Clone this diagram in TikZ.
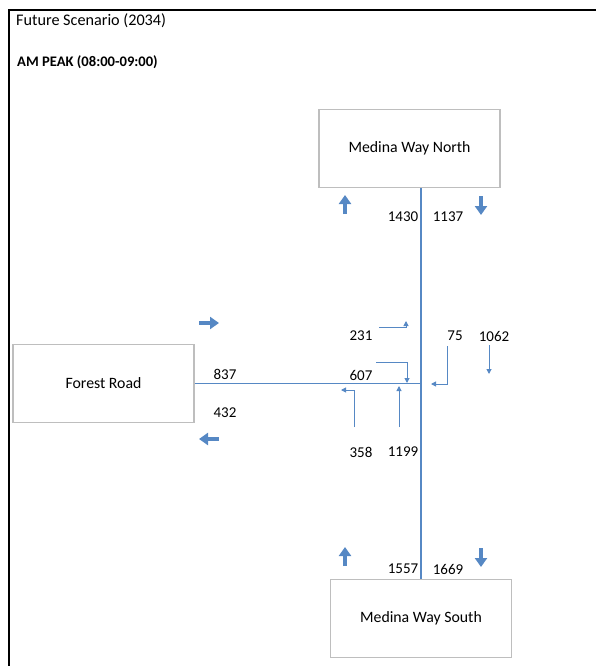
\documentclass[tikz,border=0pt]{standalone}
\usepackage{fontspec}
\setmainfont{Carlito}
\usetikzlibrary{positioning,arrows.meta,calc}
\definecolor{roadblue}{RGB}{86,136,196}
\definecolor{boxgray}{RGB}{190,190,190}

\begin{document}
\begin{tikzpicture}[
    x=1pt,y=-1pt,
    font=\fontsize{15}{17}\selectfont,
    arm/.style={rectangle,draw=boxgray,line width=1.2pt,minimum width=181pt,minimum height=78pt,
                font=\fontsize{15.8}{18}\selectfont},
    road/.style={roadblue,line width=1.3pt},
    turn/.style={roadblue,line width=1pt,-{Triangle[width=5pt,length=5pt]}},
    flow/.style={roadblue,line width=4pt,-{Triangle[width=12pt,length=9pt]}},
    count/.style={inner sep=0pt}
]
\useasboundingbox (0,0) rectangle (596,666);
\draw[line width=2pt] (9,666) -- (9,10) -- (596,10);

\node[anchor=west,count,font=\fontsize{16.2}{18}\selectfont] (title) at (16,21) {Future Scenario (2034)};
\node[anchor=west,count,font=\fontsize{14.6}{17}\selectfont\bfseries] (peak) at (17,62) {AM PEAK (08:00-09:00)};

% approach boxes
\node[arm] (north)  at (409.5,148.5) {Medina Way North};
\node[arm] (forest) at (103.5,383.5) {Forest Road};
\node[arm] (south)  at (421,618.5)  {Medina Way South};

% road centre lines
\coordinate (junc) at (421,383.5);
\draw[road] (north.south -| junc) -- (south.north -| junc);
\draw[road] (forest.east) -- (forest.east -| junc);

% in/out flow markers
\draw[flow] (345,214) -- (345,195);
\draw[flow] (481,196) -- (481,215);
\draw[flow] (345,566) -- (345,547);
\draw[flow] (481,548) -- (481,567);
\draw[flow] (199,323) -- (219,323);
\draw[flow] (219,439) -- (199,439);

% link counts
\node[count] (n-in)  at (403,217) {1430};
\node[count] (n-out) at (448,217) {1137};
\node[count] (s-in)  at (403,569) {1557};
\node[count] (s-out) at (448,569) {1669};
\node[count] (f-in)  at (225,374) {837};
\node[count] (f-out) at (225,413) {432};

% turning counts
\node[count] (c231)  at (361,336) {231};
\node[count] (c607)  at (361,375) {607};
\node[count] (c75)   at (455,336) {75};
\node[count] (c1062) at (494,336) {1062};
\node[count] (c358)  at (361,452) {358};
\node[count] (c1199) at (403,452) {1199};

\draw[turn] (379,327) -| (406,321);
\draw[turn] (376,362) -| (407,383);
\draw[turn] (447,346) |- (431,384);
\draw[turn] (489,345) -- (489,374);
\draw[turn] (354,427) |- (341,390);
\draw[turn] (399,427) -- (399,386);
\end{tikzpicture}
\end{document}
